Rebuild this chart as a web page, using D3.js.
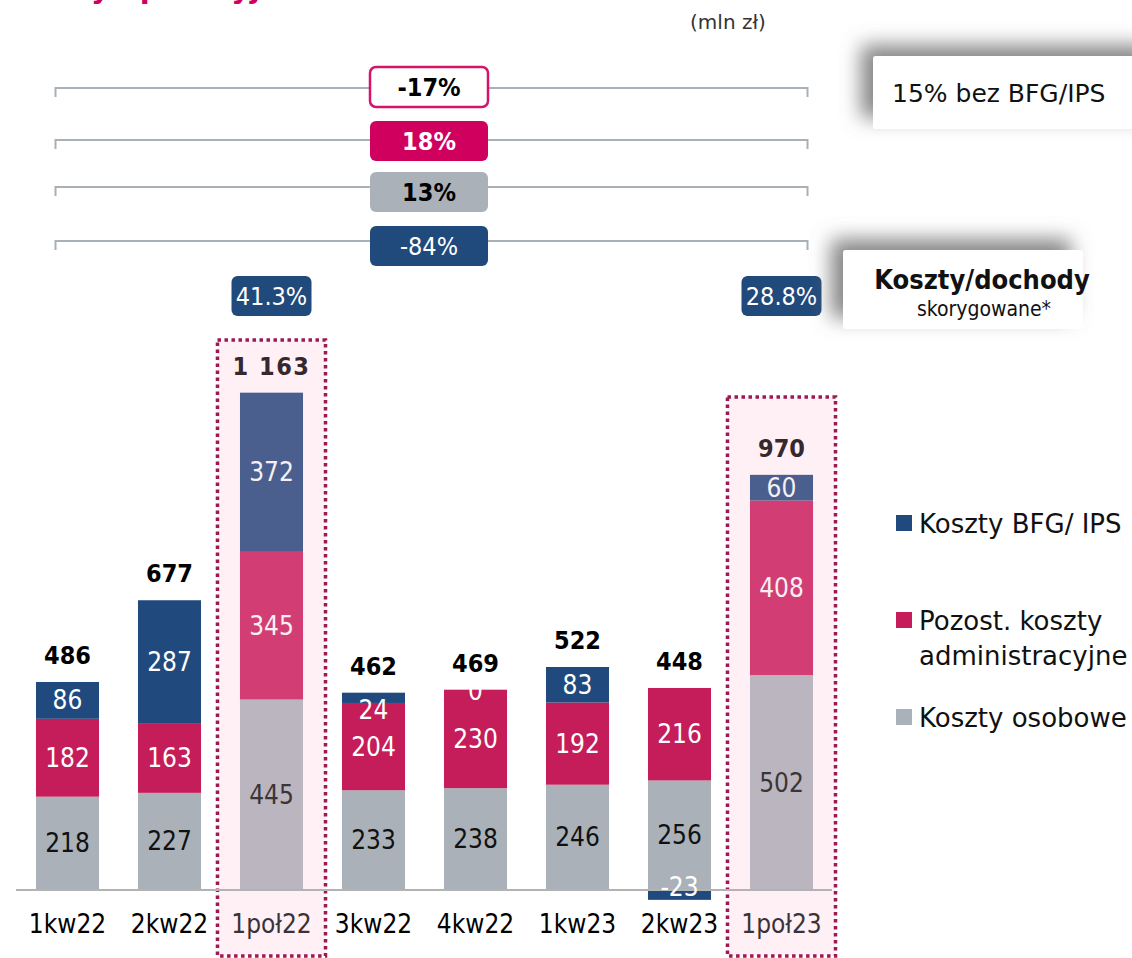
<!DOCTYPE html>
<html>
<head>
<meta charset="utf-8">
<script src="https://cdn.jsdelivr.net/npm/d3@7"></script>
<style>
  body { margin: 0; background: #fff; }
  svg { display: block; font-family: "DejaVu Sans Condensed", "DejaVu Sans", sans-serif; }
</style>
</head>
<body>
<div id="chart"></div>
<script>
// data
const categories = ["1kw22", "2kw22", "1poł22", "3kw22", "4kw22", "1kw23", "2kw23", "1poł23"];
const halfYears = ["1poł22", "1poł23"];
const osobowe = [218, 227, 445, 233, 238, 246, 256, 502];
const pozostale = [182, 163, 345, 204, 230, 192, 216, 408];
const bfg = [86, 287, 372, 24, 0, 83, -23, 60];
const totals = ["486", "677", "1 163", "462", "469", "522", "448", "970"];

const seriesKeys = ["osobowe", "pozostale", "bfg"];
const legendLabels = [["Koszty BFG/ IPS"], ["Pozost. koszty", "administracyjne"], ["Koszty osobowe"]];

const changeLabels = ["-17%", "18%", "13%", "-84%"];
const ratioLabels = [["1poł22", "41.3%"], ["1poł23", "28.8%"]];

let width = 1132, height = 958;

const colors = {
  osobowe: "#aab1b8",
  pozostale: "#c51d59",
  bfg: "#204a7d",
};
const colorsHalf = {
  osobowe: "#bbb5c0",
  pozostale: "#d23e73",
  bfg: "#4a5f8d",
};

const rows = categories.map((c, i) => ({
  cat: c,
  osobowe: osobowe[i],
  pozostale: pozostale[i],
  bfg: bfg[i],
  total: totals[i],
}));

const svg = d3.select("#chart").append("svg")
  .attr("width", width)
  .attr("height", height);

const defs = svg.append("defs");
const shadow = defs.append("filter").attr("id", "shadow")
  .attr("x", "-40%").attr("y", "-80%").attr("width", "180%").attr("height", "260%");
shadow.append("feDropShadow")
  .attr("dx", -12).attr("dy", -11)
  .attr("stdDeviation", 10)
  .attr("flood-color", "#6f6f6f")
  .attr("flood-opacity", 0.85);

const x = d3.scaleBand()
  .domain(categories)
  .range([16.5, 832.5])
  .paddingInner(0.382)
  .paddingOuter(0.191);

const y = d3.scaleLinear()
  .domain([0, 1200])
  .range([890, 890 - 1200 * 0.428]);

// title (cut at the top edge)
svg.append("text")
  .attr("x", 1).attr("y", -2)
  .attr("font-family", "DejaVu Sans")
  .attr("font-weight", "bold")
  .attr("font-size", 29)
  .attr("fill", "#d0005f")
  .text("Koszty operacyjne");

svg.append("text")
  .attr("x", 728).attr("y", 29)
  .attr("text-anchor", "middle")
  .attr("font-family", "DejaVu Sans")
  .attr("font-size", 20)
  .attr("fill", "#333")
  .text("(mln zł)");

// highlight boxes for half-year columns
const hlTop = { "1poł22": 340, "1poł23": 397 };
svg.selectAll(".hl")
  .data(halfYears)
  .join("rect")
  .attr("class", "hl")
  .attr("x", (d) => x(d) - 22.5)
  .attr("y", (d) => hlTop[d])
  .attr("width", x.bandwidth() + 45)
  .attr("height", (d) => 956 - hlTop[d])
  .attr("fill", "#fff0f6")
  .attr("stroke", "#9c1a52")
  .attr("stroke-width", 3.5)
  .attr("stroke-dasharray", "3.5 3.5");

// stacked bars
const stack = d3.stack().keys(seriesKeys).offset(d3.stackOffsetDiverging);
const stacked = stack(rows);

const isHalf = (c) => halfYears.includes(c);
const posTop = (r) => Math.max(0, r.osobowe) + Math.max(0, r.pozostale) + Math.max(0, r.bfg);

svg.append("g")
  .selectAll("g")
  .data(stacked)
  .join("g")
  .selectAll("rect")
  .data((s) => s.map((d) => ({ key: s.key, d })))
  .join("rect")
  .attr("x", (p) => x(p.d.data.cat))
  .attr("width", x.bandwidth())
  .attr("y", (p) => y(Math.max(p.d[0], p.d[1])))
  .attr("height", (p) => Math.abs(y(p.d[0]) - y(p.d[1])))
  .attr("fill", (p) => (isHalf(p.d.data.cat) ? colorsHalf : colors)[p.key]);

// baseline
svg.append("line")
  .attr("x1", 16).attr("x2", 832)
  .attr("y1", y(0)).attr("y2", y(0))
  .attr("stroke", "#b3b3b3")
  .attr("stroke-width", 2);

// segment labels
const segLabels = [];
stacked.forEach((s) => {
  s.forEach((d) => {
    const v = d.data[s.key];
    const h = Math.abs(y(d[0]) - y(d[1]));
    let cy = (y(d[0]) + y(d[1])) / 2;
    // zero value sits on top of the stack, small segments nudged off the thin bar
    if (v === 0) cy = y(posTop(d.data)) + 1;
    else if (h < 14) cy += v > 0 ? 12 : -8;
    let fill = s.key === "osobowe" ? "#111" : "#fff";
    if (isHalf(d.data.cat)) fill = s.key === "osobowe" ? "#3b3536" : "#f6f0f4";
    segLabels.push({ cat: d.data.cat, v, cy, fill });
  });
});

svg.append("g")
  .selectAll("text")
  .data(segLabels)
  .join("text")
  .attr("x", (d) => x(d.cat) + x.bandwidth() / 2)
  .attr("y", (d) => d.cy + 9)
  .attr("text-anchor", "middle")
  .attr("font-size", 26)
  .attr("fill", (d) => d.fill)
  .text((d) => d.v);

// totals
svg.append("g")
  .selectAll("text")
  .data(rows)
  .join("text")
  .attr("x", (d) => x(d.cat) + x.bandwidth() / 2)
  .attr("y", (d) => y(posTop(d)) - 18)
  .attr("text-anchor", "middle")
  .attr("font-size", 25)
  .attr("font-weight", "bold")
  .attr("letter-spacing", (d) => (d.cat === "1poł22" ? 1.5 : 0))
  .attr("fill", (d) => (isHalf(d.cat) ? "#35282e" : "#000"))
  .text((d) => d.total);

// category labels
svg.append("g")
  .selectAll("text")
  .data(categories)
  .join("text")
  .attr("x", (d) => x(d) + x.bandwidth() / 2)
  .attr("y", 933)
  .attr("text-anchor", "middle")
  .attr("font-size", 26)
  .attr("fill", (d) => (isHalf(d) ? "#3b3333" : "#000"))
  .text((d) => d);

// change brackets
const bracketY = [88, 140, 187, 241];
const boxTop = [67, 121, 172, 226];
const boxStyle = [
  { fill: "#fff", stroke: "#d4146a", text: "#000", weight: "bold" },
  { fill: "#d0005f", stroke: "none", text: "#fff", weight: "bold" },
  { fill: "#aab1b8", stroke: "none", text: "#000", weight: "bold" },
  { fill: "#214a7c", stroke: "none", text: "#fff", weight: "normal" },
];
const bx0 = 55.5, bx1 = 807.5, boxCx = 429, boxW = 118, boxH = 40;

const brackets = svg.append("g")
  .selectAll("g")
  .data(changeLabels)
  .join("g");

brackets.append("path")
  .attr("d", (d, i) => `M${bx0},${bracketY[i] + 9}V${bracketY[i]}H${bx1}V${bracketY[i] + 9}`)
  .attr("fill", "none")
  .attr("stroke", "#a9b1b6")
  .attr("stroke-width", 2);

brackets.append("rect")
  .attr("x", boxCx - boxW / 2)
  .attr("y", (d, i) => boxTop[i])
  .attr("width", boxW)
  .attr("height", boxH)
  .attr("rx", 6)
  .attr("fill", (d, i) => boxStyle[i].fill)
  .attr("stroke", (d, i) => boxStyle[i].stroke)
  .attr("stroke-width", 2.5);

brackets.append("text")
  .attr("x", boxCx)
  .attr("y", (d, i) => boxTop[i] + boxH / 2 + 9)
  .attr("text-anchor", "middle")
  .attr("font-size", 25)
  .attr("font-weight", (d, i) => boxStyle[i].weight)
  .attr("fill", (d, i) => boxStyle[i].text)
  .text((d) => d);

// cost/income ratio boxes
const ratios = svg.append("g")
  .selectAll("g")
  .data(ratioLabels)
  .join("g");

ratios.append("rect")
  .attr("x", (d) => x(d[0]) + x.bandwidth() / 2 - 40)
  .attr("y", 276)
  .attr("width", 80)
  .attr("height", 40)
  .attr("rx", 6)
  .attr("fill", "#214a7c");

ratios.append("text")
  .attr("x", (d) => x(d[0]) + x.bandwidth() / 2)
  .attr("y", 305)
  .attr("text-anchor", "middle")
  .attr("font-size", 25)
  .attr("fill", "#fff")
  .text((d) => d[1]);

// side notes with shadow
svg.append("rect")
  .attr("x", 873).attr("y", 56)
  .attr("width", 290).attr("height", 73)
  .attr("rx", 3)
  .attr("fill", "#fff")
  .attr("filter", "url(#shadow)");
svg.append("text")
  .attr("x", 892).attr("y", 102)
  .attr("font-family", "DejaVu Sans")
  .attr("font-size", 25)
  .attr("fill", "#111")
  .text("15% bez BFG/IPS");

svg.append("rect")
  .attr("x", 843).attr("y", 250)
  .attr("width", 240).attr("height", 79)
  .attr("rx", 3)
  .attr("fill", "#fff")
  .attr("filter", "url(#shadow)");
svg.append("text")
  .attr("x", 982).attr("y", 289)
  .attr("text-anchor", "middle")
  .attr("font-size", 27)
  .attr("font-weight", "bold")
  .attr("fill", "#111")
  .text("Koszty/dochody");
svg.append("text")
  .attr("x", 984).attr("y", 316)
  .attr("text-anchor", "middle")
  .attr("font-size", 21)
  .attr("fill", "#111")
  .text("skorygowane*");

// legend
const legendKeys = ["bfg", "pozostale", "osobowe"];
const legendY = [523, 620, 717];
const legend = svg.append("g")
  .selectAll("g")
  .data(legendKeys)
  .join("g")
  .attr("transform", (d, i) => `translate(896, ${legendY[i]})`);

legend.append("rect")
  .attr("x", 0).attr("y", -8)
  .attr("width", 16).attr("height", 16)
  .attr("fill", (d) => colors[d]);

legend.append("text")
  .attr("x", 23)
  .attr("font-family", "DejaVu Sans")
  .attr("font-size", 26)
  .attr("fill", "#111")
  .selectAll("tspan")
  .data((d, i) => legendLabels[i])
  .join("tspan")
  .attr("x", 23)
  .attr("y", (d, j) => 9.5 + j * 35)
  .text((d) => d);
</script>
</body>
</html>
